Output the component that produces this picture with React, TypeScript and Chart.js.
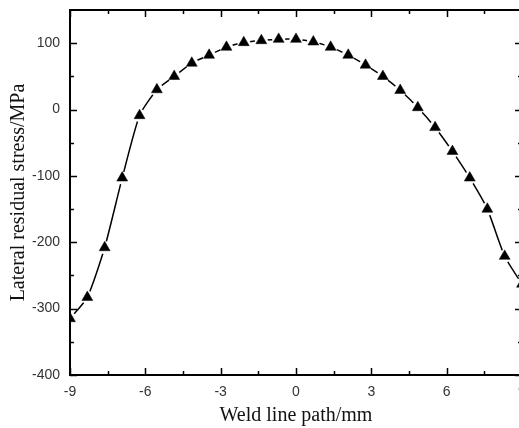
import React, { useEffect, useRef } from "react";
import { Chart, registerables } from "chart.js";

Chart.register(...registerables);

// Weld line path positions (mm)
const weldPath = [
  -9, -8.31, -7.62, -6.92, -6.23, -5.54, -4.85, -4.15, -3.46, -2.77, -2.08, -1.38, -0.69,
  0, 0.69, 1.38, 2.08, 2.77, 3.46, 4.15, 4.85, 5.54, 6.23, 6.92, 7.62, 8.31, 9,
];
// Lateral residual stress (MPa)
const lateralStress = [
  -315, -283, -208, -103, -9, 30, 50, 70, 82, 94, 101, 104, 106,
  106, 102, 94, 82, 67, 50, 29, 3, -27, -63, -103, -150, -221, -263,
];

const xMajorTicks = [-9, -6, -3, 0, 3, 6, 9];
const xMinorTicks = [-7.5, -4.5, -1.5, 1.5, 4.5, 7.5];
const yMajorTicks = [-400, -300, -200, -100, 0, 100];
const yMinorTicks = [-350, -250, -150, -50, 50];

const xTitle = "Weld line path/mm";
const yTitle = "Lateral residual stress/MPa";

const frameTicksPlugin = {
  id: "frameTicks",
  afterDatasetsDraw(chart: any) {
    const { ctx, chartArea: a, scales } = chart;
    const xs = scales.x;
    const ys = scales.y;
    ctx.save();
    ctx.strokeStyle = "#000";
    ctx.lineWidth = 1.5;
    const drawX = (vals: number[], len: number) => {
      vals.forEach((v) => {
        const px = Math.round(xs.getPixelForValue(v)) + 0.5;
        ctx.beginPath();
        ctx.moveTo(px, a.bottom);
        ctx.lineTo(px, a.bottom - len);
        ctx.moveTo(px, a.top);
        ctx.lineTo(px, a.top + len);
        ctx.stroke();
      });
    };
    const drawY = (vals: number[], len: number) => {
      vals.forEach((v) => {
        const py = Math.round(ys.getPixelForValue(v)) + 0.5;
        ctx.beginPath();
        ctx.moveTo(a.left, py);
        ctx.lineTo(a.left + len, py);
        ctx.moveTo(a.right, py);
        ctx.lineTo(a.right - len, py);
        ctx.stroke();
      });
    };
    drawX(xMajorTicks, 7);
    drawX(xMinorTicks, 4);
    drawY(yMajorTicks, 7);
    drawY(yMinorTicks, 4);
    ctx.lineWidth = 2;
    ctx.strokeRect(a.left, a.top, a.right - a.left, a.bottom - a.top);
    ctx.restore();
  },
};

export default function App() {
  const canvasRef = useRef<HTMLCanvasElement | null>(null);

  useEffect(() => {
    document.body.style.margin = "0";
    document.body.style.overflow = "hidden";
    const canvas = canvasRef.current;
    if (!canvas) return;
    const points = weldPath.map((x, i) => ({ x, y: lateralStress[i] }));

    const chart = new Chart(canvas, {
      type: "line",
      data: {
        datasets: [
          {
            data: points,
            borderColor: "#000",
            borderWidth: 1.5,
            pointRadius: 0,
            tension: 0.2,
            fill: false,
            order: 3,
            clip: 0,
          } as any,
          {
            data: points,
            showLine: false,
            pointStyle: "circle",
            pointRadius: 6.5,
            pointBackgroundColor: "#fff",
            pointBorderWidth: 0,
            pointBorderColor: "#fff",
            order: 2,
            clip: 0,
          } as any,
          {
            data: points,
            showLine: false,
            pointStyle: "triangle",
            pointRadius: 6.3,
            pointBackgroundColor: "#000",
            pointBorderColor: "#000",
            pointBorderWidth: 0.5,
            order: 1,
            clip: 0,
          } as any,
        ],
      },
      options: {
        responsive: false,
        animation: false,
        layout: { padding: { top: 10, right: 8, left: 0, bottom: 0 } },
        plugins: {
          legend: { display: false },
          tooltip: { enabled: false },
        },
        scales: {
          x: {
            type: "linear",
            min: -9,
            max: 9,
            grid: { display: false },
            border: { display: false },
            afterBuildTicks: (scale: any) => {
              scale.ticks = xMajorTicks.map((v) => ({ value: v }));
            },
            afterFit: (scale: any) => {
              scale.height = 53;
              scale.paddingLeft = 0;
              scale.paddingRight = 0;
            },
            ticks: {
              padding: 1,
              maxRotation: 0,
              autoSkip: false,
              color: "#333",
              font: { family: "'Liberation Sans', Arial, sans-serif", size: 14 },
            },
            title: {
              display: true,
              text: xTitle,
              color: "#111",
              padding: { top: 0, bottom: 0 },
              font: { family: "'Liberation Serif', 'Times New Roman', serif", size: 20 },
            },
          },
          y: {
            type: "linear",
            min: -400,
            max: 150,
            grid: { display: false },
            border: { display: false },
            afterBuildTicks: (scale: any) => {
              scale.ticks = yMajorTicks.map((v) => ({ value: v }));
            },
            afterFit: (scale: any) => {
              scale.width = 70;
              scale.paddingTop = 0;
              scale.paddingBottom = 0;
            },
            ticks: {
              padding: 2,
              autoSkip: false,
              color: "#333",
              font: { family: "'Liberation Sans', Arial, sans-serif", size: 14 },
            },
            title: {
              display: true,
              text: yTitle,
              color: "#111",
              padding: { top: 7, bottom: 0 },
              font: { family: "'Liberation Serif', 'Times New Roman', serif", size: 20 },
            },
          },
        },
      } as any,
      plugins: [frameTicksPlugin],
    });

    return () => {
      chart.destroy();
    };
  }, []);

  return (
    <div style={{ position: "fixed", left: 0, top: 0, width: 530, height: 428, background: "#fff" }}>
      <canvas ref={canvasRef} width={530} height={428} style={{ display: "block" }} />
    </div>
  );
}
